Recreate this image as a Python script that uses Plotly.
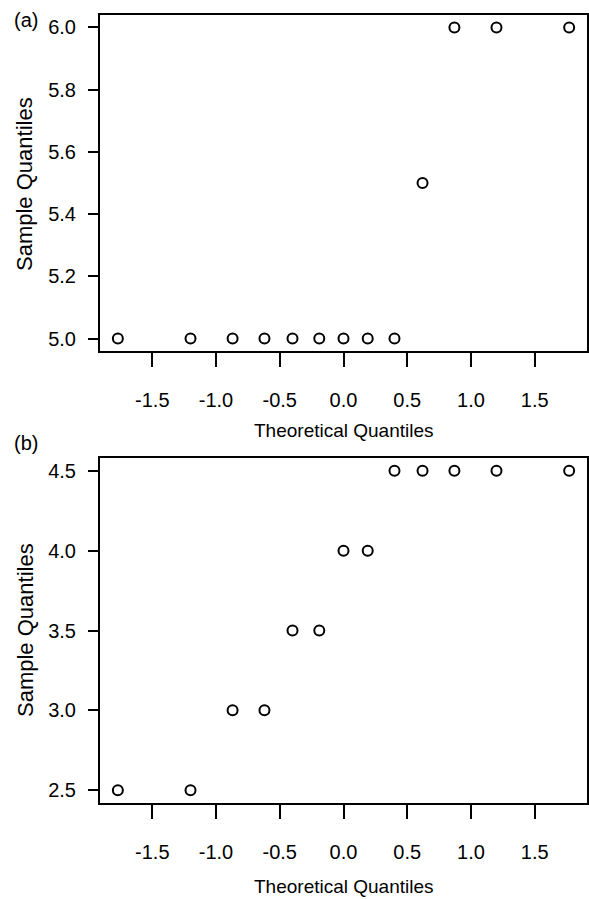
import plotly.graph_objects as go

# Theoretical normal quantiles (n = 13)
theoretical = [-1.77, -1.20, -0.87, -0.62, -0.40, -0.19, 0.0, 0.19, 0.40, 0.62, 0.87, 1.20, 1.77]
# Panel (a) sample quantiles
sample_a = [5.0, 5.0, 5.0, 5.0, 5.0, 5.0, 5.0, 5.0, 5.0, 5.5, 6.0, 6.0, 6.0]
# Panel (b) sample quantiles
sample_b = [2.5, 2.5, 3.0, 3.0, 3.5, 3.5, 4.0, 4.0, 4.5, 4.5, 4.5, 4.5, 4.5]

x_ticks = [-1.5, -1.0, -0.5, 0.0, 0.5, 1.0, 1.5]
x_tick_text = ["-1.5", "-1.0", "-0.5", "0.0", "0.5", "1.0", "1.5"]
ya_ticks = [5.0, 5.2, 5.4, 5.6, 5.8, 6.0]
ya_tick_text = ["5.0", "5.2", "5.4", "5.6", "5.8", "6.0"]
yb_ticks = [2.5, 3.0, 3.5, 4.0, 4.5]
yb_tick_text = ["2.5", "3.0", "3.5", "4.0", "4.5"]

W, H = 589, 899
NARROW = "Liberation Sans Narrow, Arial Narrow, Liberation Sans, Arial, sans-serif"
REG = "Liberation Sans, Arial, sans-serif"

def py(p):
    return 1 - p / H

def px(p):
    return p / W

marker = dict(symbol="circle-open", size=10, color="black", line=dict(width=2, color="black"))

fig = go.Figure()
fig.add_trace(go.Scatter(x=theoretical, y=sample_a, mode="markers", marker=marker,
                         xaxis="x", yaxis="y", showlegend=False))
fig.add_trace(go.Scatter(x=theoretical, y=sample_b, mode="markers", marker=marker,
                         xaxis="x2", yaxis="y2", showlegend=False))

xcommon = dict(range=[-1.91, 1.91], tickmode="array", tickvals=x_ticks, ticktext=x_tick_text,
               showline=True, mirror=True, linecolor="black", linewidth=2,
               ticks="outside", ticklen=14, tickwidth=2, tickcolor="black",
               showgrid=False, zeroline=False,
               tickfont=dict(family=NARROW, size=20, color="black"),
               ticklabelstandoff=16, domain=[px(100), px(587)])
ycommon = dict(showline=True, mirror=True, linecolor="black", linewidth=2,
               ticks="outside", ticklen=10, tickwidth=2, tickcolor="black",
               showgrid=False, zeroline=False,
               tickfont=dict(family=NARROW, size=20, color="black"),
               ticklabelstandoff=8, tickmode="array")

fig.update_layout(
    width=W, height=H,
    margin=dict(l=0, r=0, t=0, b=0),
    paper_bgcolor="white", plot_bgcolor="white",
    xaxis=dict(**xcommon, anchor="y"),
    yaxis=dict(**ycommon, range=[4.96, 6.04], tickvals=ya_ticks, ticktext=ya_tick_text,
               domain=[py(351), py(15)], anchor="x"),
    xaxis2=dict(**xcommon, anchor="y2"),
    yaxis2=dict(**ycommon, range=[2.42, 4.58], tickvals=yb_ticks, ticktext=yb_tick_text,
                domain=[py(803), py(458)], anchor="x2"),
)

annots = [
    dict(text="(a)", x=px(26), y=py(20), font=dict(family=REG, size=20, color="black")),
    dict(text="(b)", x=px(26), y=py(443), font=dict(family=REG, size=20, color="black")),
    dict(text="Theoretical Quantiles", x=px(343.5), y=py(430), font=dict(family=NARROW, size=19, color="black")),
    dict(text="Theoretical Quantiles", x=px(343.5), y=py(886), font=dict(family=NARROW, size=19, color="black")),
    dict(text="Sample Quantiles", x=px(25), y=py(184), textangle=-90, font=dict(family=REG, size=22, color="black")),
    dict(text="Sample Quantiles", x=px(25), y=py(630), textangle=-90, font=dict(family=REG, size=22, color="black")),
]
for a in annots:
    fig.add_annotation(xref="paper", yref="paper", showarrow=False,
                       xanchor="center", yanchor="middle", **a)

fig.write_html("out.html",
               config={"displayModeBar": False},
               post_script="document.body.style.margin='0';document.body.style.overflow='hidden';")
